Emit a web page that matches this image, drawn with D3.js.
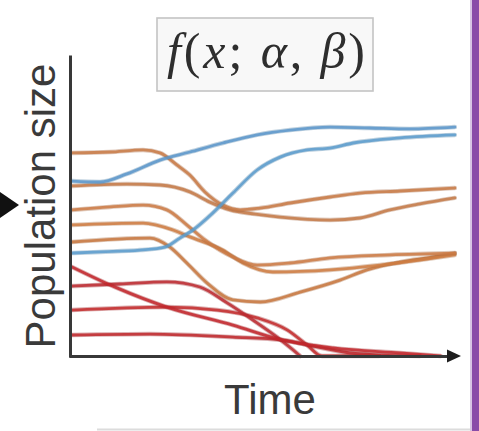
<!DOCTYPE html>
<html>
<head>
<meta charset="utf-8">
<script src="https://cdn.jsdelivr.net/npm/d3@7"></script>
<style>
  html, body { margin: 0; padding: 0; background: #ffffff; }
  svg { display: block; }
</style>
</head>
<body>
<svg id="chart" width="479" height="431"></svg>
<script>
// ---- Data (time 0..100, population 0..100) ----
const formulaParts = [
  { t: "f", italic: true }, { t: "(", italic: false }, { t: "x", italic: true },
  { t: "; ", italic: false }, { t: "α", italic: true }, { t: ", ", italic: false },
  { t: "β", italic: true }, { t: ")", italic: false }
];
const yLabel = "Population size";
const xLabel = "Time";

const blue1 = [[0,58.3],[7.3,58],[14.3,60.7],[22.9,65.3],[30.7,68],[39.3,71],[48.2,73.7],[56.8,75.3],[67.2,76.3],[77.6,76],[88,75.7],[99.7,76.3]];
const blue2 = [[0,34.3],[7.3,34.7],[17.7,35.3],[24.2,36.3],[28.1,39.3],[31.5,42],[36.7,47.7],[41.9,54.3],[48.2,62],[54.2,66.3],[61.2,68.7],[67.2,69.3],[73.2,71],[85.4,72.7],[99.7,73.7]];

const orange1 = [[0,67.7],[9.9,68],[18.5,68.7],[22.9,67.7],[27.3,63.7],[30.7,60.3],[34.6,54.7],[39.3,50.3],[43.8,48.7],[49,49.3],[56.8,51],[67.2,53],[75,54.3],[85.4,55],[99.7,56]];
const orange2 = [[0,56.7],[14.3,57.3],[22.9,57],[30.7,54.7],[35.9,51.3],[41.1,48.7],[47.7,47.3],[54.2,46.3],[67.2,45.3],[75,46],[82.8,48.7],[90.6,50.7],[99.7,52.7]];
const orange3 = [[0,48.7],[9.9,49.7],[18.5,50.3],[24.7,48.7],[29.9,43.7],[34.6,38.7],[41.9,33],[48.2,30.3],[56.8,31],[67.2,32.7],[82.8,33.7],[99.7,34.3]];
const orange4 = [[0,43.7],[18.5,44.3],[26.3,42],[30.7,39.7],[39.3,35.3],[44.5,31],[52.3,28],[67.2,28.7],[80.2,30.3],[90.6,32],[99.7,33.7]];
const orange5 = [[0,38],[20.3,39.3],[25.5,36.3],[29.9,31],[35.2,24.3],[41.9,18.7],[49,18],[59.4,21.3],[69.8,25.3],[76.8,28.7],[85.4,31.3],[94,33],[99.7,34.3]];

const red1 = [[0,29.7],[11.7,22.7],[24.7,16.3],[41.9,10.3],[54.9,5.3],[68,2.7],[85.4,1],[96,0]];
const red2 = [[0,23.3],[12.5,24],[24.7,24.7],[33.3,23],[40.4,17.7],[47.1,12],[53.4,6.3],[57.6,2],[59.4,0]];
const red3 = [[0,15.3],[24.7,16.3],[37.8,15.3],[48.2,12.7],[56,8.7],[61.2,3.7],[65.1,0],[80,0]];
const red4 = [[0,7],[20.3,7.3],[41.9,6.3],[54.9,5.3],[63.8,3],[72.4,1],[80.2,0.3],[90.6,0]];

const seriesList = [
  { values: red4, color: "#c0282c" },
  { values: red3, color: "#c42a2c" },
  { values: red2, color: "#bd2a30" },
  { values: red1, color: "#c3272b" },
  { values: orange5, color: "#c97840" },
  { values: orange4, color: "#cf7d42" },
  { values: orange3, color: "#cd7b45" },
  { values: orange2, color: "#c67a48" },
  { values: orange1, color: "#c97a45" },
  { values: blue2, color: "#5b9ccd" },
  { values: blue1, color: "#5a97cb" }
];

// ---- Drawing ----
const svg = d3.select("#chart");
const W = 479, H = 431;

const x = d3.scaleLinear().domain([0, 100]).range([72, 456]);
const y = d3.scaleLinear().domain([0, 100]).range([356, 56]);

// purple side bar
svg.append("rect").attr("x", 470).attr("y", 0).attr("width", 2).attr("height", H).attr("fill", "#d8c6e4");
svg.append("rect").attr("x", 472).attr("y", 0).attr("width", 7).attr("height", H).attr("fill", "#8a4ca8");

// bottom gray line
svg.append("line").attr("x1", 97).attr("x2", 470).attr("y1", 429.5).attr("y2", 429.5)
  .attr("stroke", "#dcdcdc").attr("stroke-width", 2);

// formula box
svg.append("rect").attr("x", 157).attr("y", 18).attr("width", 216).attr("height", 73)
  .attr("fill", "#f8f8f8").attr("stroke", "#c4c4c4").attr("stroke-width", 1.6);
const ft = svg.append("text")
  .attr("x", 266).attr("y", 68)
  .attr("text-anchor", "middle")
  .attr("font-family", "'Liberation Serif', 'DejaVu Serif', serif")
  .attr("font-size", 50)
  .attr("fill", "#2e2e2e")
  .attr("textLength", 198)
  .attr("lengthAdjust", "spacing");
formulaParts.forEach(p => {
  ft.append("tspan").attr("font-style", p.italic ? "italic" : "normal").text(p.t);
});

// lines
const line = d3.line().x(d => x(d[0])).y(d => y(d[1])).curve(d3.curveMonotoneX);
const g = svg.append("g");
seriesList.forEach(s => {
  g.append("path").attr("d", line(s.values)).attr("fill", "none")
    .attr("stroke", d3.color(s.color).darker(0.6)).attr("stroke-opacity", 0.35)
    .attr("stroke-width", 4.5).attr("stroke-linecap", "round");
  g.append("path").attr("d", line(s.values)).attr("fill", "none")
    .attr("stroke", s.color).attr("stroke-opacity", 0.85)
    .attr("stroke-width", 2.8).attr("stroke-linecap", "round");
});

// axes (no ticks, just domain lines)
const xAxisScale = x.copy().range([69, 452]);
const yAxisScale = y.copy().range([357, 55]);
const xAxisG = svg.append("g").attr("transform", "translate(0,356)")
  .call(d3.axisBottom(xAxisScale).tickValues([]).tickSizeOuter(0));
const yAxisG = svg.append("g").attr("transform", "translate(70,0)")
  .call(d3.axisLeft(yAxisScale).tickValues([]).tickSizeOuter(0));
[xAxisG, yAxisG].forEach(a => a.select(".domain").attr("stroke", "#383838").attr("stroke-width", 3));

// x axis arrow head
svg.append("path").attr("d", "M447,349.5 L461,356 L447,362.5 Z").attr("fill", "#1e1e1e");

// left pointer triangle
svg.append("path").attr("d", "M0,192 L19,205 L0,218 Z").attr("fill", "#111");

// axis labels
svg.append("text")
  .attr("transform", "translate(55,206) rotate(-90)")
  .attr("text-anchor", "middle")
  .attr("font-family", "'Liberation Sans', Arial, sans-serif")
  .attr("font-size", 42)
  .attr("fill", "#3a3a3a")
  .text(yLabel);

svg.append("text")
  .attr("x", 270).attr("y", 414)
  .attr("text-anchor", "middle")
  .attr("font-family", "'Liberation Sans', Arial, sans-serif")
  .attr("font-size", 42)
  .attr("fill", "#3a3a3a")
  .text(xLabel);
</script>
</body>
</html>
